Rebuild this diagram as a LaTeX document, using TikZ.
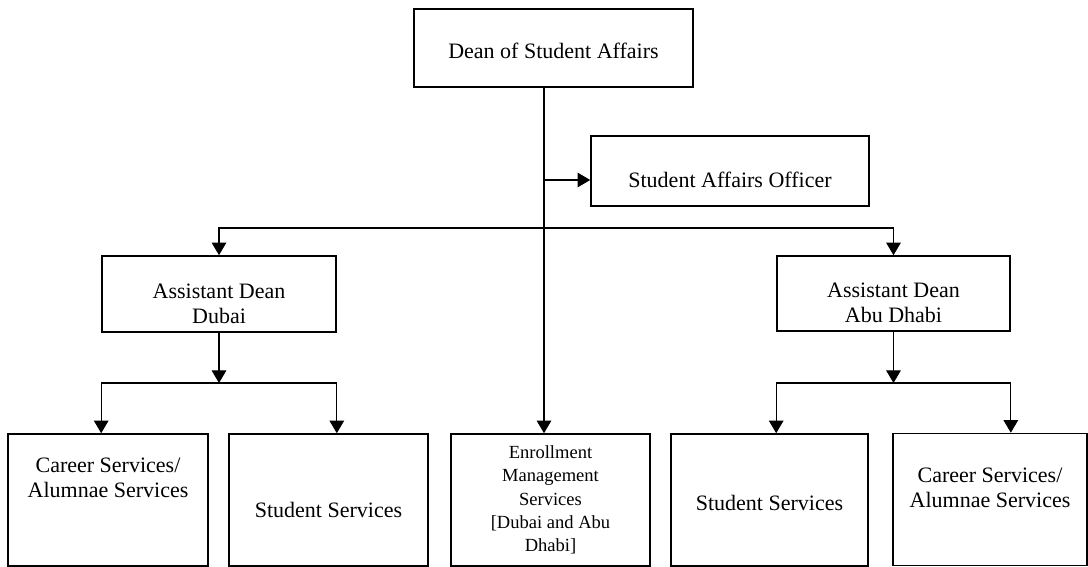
\documentclass[tikz,border=0pt]{standalone}
\usepackage{fontspec}
\setmainfont{Liberation Serif}
\usetikzlibrary{arrows.meta}

\begin{document}
\begin{tikzpicture}[x=0.75pt,y=-0.75pt,->,>={Triangle[width=11pt,length=9.5pt]},line width=0.8pt,
  box node/.style={draw,-,line width=1.2pt,align=center,inner sep=0pt,
    font=\fontsize{16.5pt}{18.75pt}\selectfont},
  small node/.style={box node,font=\fontsize{13.9pt}{17.5pt}\selectfont},
  low node/.style={box node,minimum width=150pt,minimum height=99pt}]

  \useasboundingbox (0,0) rectangle (1088,567);

  \node[box node,minimum width=209.25pt,minimum height=58.5pt,text height=21pt,text depth=4.5pt] (dean) at (553.5,48) {Dean of Student Affairs};
  \node[box node,minimum width=208.5pt,minimum height=52.5pt,text height=30pt,text depth=6pt] (sao) at (730,171) {Student Affairs Officer};
  \node[box node,minimum width=175.5pt,minimum height=57pt,text height=49.5pt,text depth=6pt] (dubai) at (219,294) {Assistant Dean\\Dubai};
  \node[box node,minimum width=174.75pt,minimum height=56.25pt,text height=49.5pt,text depth=6pt] (abu) at (893.5,293.5) {Assistant Dean\\Abu Dhabi};

  \node[low node,text height=12pt,text depth=16.5pt] (careerL) at (108,500) {Career Services/\\Alumnae Services};
  \node[low node,minimum width=149.25pt,text height=31.5pt,text depth=6pt] (studL) at (328.5,500) {Student Services};
  \node[small node,minimum width=149.25pt,minimum height=99pt] (enroll) at (550.5,500) {Enrollment\\Management\\Services\\{[}Dubai and Abu\\Dhabi]};
  \node[low node,minimum width=147.75pt,text height=21pt,text depth=6pt] (studR) at (769.5,500) {Student Services};
  \node[low node,minimum width=145.5pt,text height=17.25pt,text depth=6pt] (careerR) at (990,499.5) {Career Services/\\Alumnae Services};

  \coordinate (trunk) at (544,87);
  \coordinate (split) at (544,228);
  \coordinate (saoin) at ([yshift=-6.75pt]sao.west);
  \coordinate (dsplit) at (219,383);
  \coordinate (asplit) at (893.5,383);

  \draw[-] (dean.south -| trunk) -- (trunk);
  \draw (trunk) -- (trunk |- enroll.north);
  \draw (saoin -| trunk) -- (saoin);
  \draw (split) -| (dubai.north);
  \draw (split) -| (abu.north);

  \draw (dubai.south) -- (dsplit);
  \draw (dsplit) -| (dubai.west |- careerL.north);
  \draw (dsplit) -| (dubai.east |- studL.north);

  \draw (abu.south) -- (asplit);
  \draw (asplit) -| (abu.west |- studR.north);
  \draw (asplit) -| (abu.east |- careerR.north);

\end{tikzpicture}
\end{document}
